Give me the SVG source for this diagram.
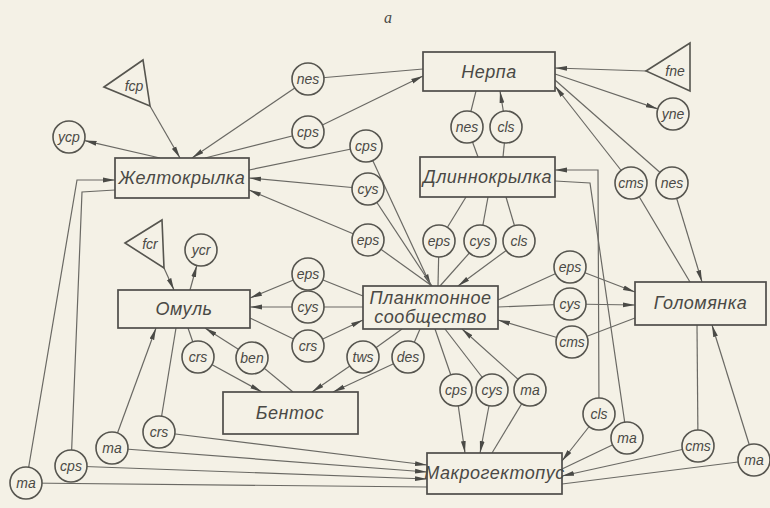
<svg xmlns="http://www.w3.org/2000/svg" width="770" height="508" viewBox="0 0 770 508">
<defs>
<marker id="ah" viewBox="0 0 12 6" refX="12" refY="3" markerWidth="12" markerHeight="6" markerUnits="userSpaceOnUse" orient="auto"><path d="M0,0.6 L12,3 L0,5.4 z" fill="#4a4a46"/></marker>
<style>
.bg{fill:#f4f1e6}
.c line,.c polyline{stroke:#6a6964;stroke-width:1.2;fill:none}
.a{marker-end:url(#ah)}
.box{fill:#f4f1e6;stroke:#4e4d49;stroke-width:1.7}
.cir{fill:#f4f1e6;stroke:#56554f;stroke-width:1.6}
.tri{fill:#f4f1e6;stroke:#56554f;stroke-width:1.6}
.bt{font-family:"Liberation Sans",Arial,sans-serif;font-style:italic;font-size:18px;fill:#4a4945;text-anchor:middle;letter-spacing:0.5px}
.ct{font-family:"Liberation Sans",Arial,sans-serif;font-style:italic;font-size:14px;fill:#4a4945;text-anchor:middle}
</style>
</defs>
<rect class="bg" x="0" y="0" width="770" height="508"/>
<text x="388" y="23" font-family="Liberation Serif,serif" font-style="italic" font-size="16" fill="#4a4945" text-anchor="middle">a</text>
<g class="c" id="connectors">
<line class="a" x1="308" y1="79" x2="192" y2="158"/>
<line x1="308" y1="79" x2="423" y2="69"/>
<line x1="205" y1="158" x2="308" y2="132"/>
<line class="a" x1="308" y1="132" x2="423" y2="76"/>
<line class="a" x1="150" y1="106" x2="180" y2="158"/>
<line class="a" x1="160" y1="158" x2="84.6" y2="140.6"/>
<line x1="366" y1="146" x2="249" y2="170"/>
<line class="a" x1="366" y1="146" x2="431" y2="286"/>
<line class="a" x1="368" y1="189" x2="249" y2="178"/>
<line x1="368" y1="189" x2="432" y2="286"/>
<line class="a" x1="368" y1="240" x2="249" y2="190"/>
<line x1="368" y1="240" x2="432" y2="286"/>
<line class="a" x1="164" y1="268" x2="174" y2="290"/>
<line class="a" x1="190" y1="290" x2="196.8" y2="265.4"/>
<line x1="363" y1="296" x2="308" y2="274"/>
<line class="a" x1="308" y1="274" x2="250" y2="298"/>
<line x1="363" y1="307" x2="308" y2="307"/>
<line class="a" x1="308" y1="307" x2="250" y2="307"/>
<line x1="250" y1="318" x2="308" y2="346"/>
<line class="a" x1="308" y1="346" x2="363" y2="320"/>
<line x1="188" y1="328" x2="198" y2="357"/>
<line class="a" x1="198" y1="357" x2="262" y2="392"/>
<line x1="293" y1="392" x2="252" y2="358"/>
<line class="a" x1="252" y1="358" x2="205" y2="328"/>
<line x1="402" y1="329" x2="363" y2="357"/>
<line class="a" x1="363" y1="357" x2="312" y2="392"/>
<line x1="420" y1="329" x2="408" y2="357"/>
<line class="a" x1="408" y1="357" x2="333" y2="392"/>
<line x1="435" y1="329" x2="456" y2="390"/>
<line class="a" x1="456" y1="390" x2="465" y2="453"/>
<line x1="445" y1="329" x2="492" y2="390"/>
<line class="a" x1="492" y1="390" x2="480" y2="453"/>
<line class="a" x1="530" y1="390" x2="462" y2="329"/>
<line x1="530" y1="390" x2="492" y2="453"/>
<line x1="498" y1="300" x2="570" y2="267"/>
<line class="a" x1="570" y1="267" x2="635" y2="292"/>
<line x1="498" y1="307" x2="570" y2="304"/>
<line class="a" x1="570" y1="304" x2="635" y2="305"/>
<line x1="635" y1="318" x2="572" y2="342"/>
<line class="a" x1="572" y1="342" x2="498" y2="320"/>
<line x1="466" y1="197" x2="439" y2="241"/>
<line x1="439" y1="241" x2="438" y2="286"/>
<line x1="488" y1="197" x2="480" y2="241"/>
<line x1="480" y1="241" x2="440" y2="286"/>
<line x1="506" y1="197" x2="519" y2="241"/>
<line class="a" x1="519" y1="241" x2="458" y2="286"/>
<line x1="476" y1="91" x2="467" y2="127"/>
<line x1="467" y1="127" x2="478" y2="157"/>
<line x1="503" y1="157" x2="506" y2="127"/>
<line class="a" x1="506" y1="127" x2="500" y2="91"/>
<line class="a" x1="646" y1="71" x2="555" y2="68"/>
<line class="a" x1="555" y1="74" x2="657.8" y2="108.9"/>
<line class="a" x1="631" y1="183" x2="555" y2="86"/>
<line x1="631" y1="183" x2="690" y2="282"/>
<line x1="555" y1="80" x2="672" y2="183"/>
<line class="a" x1="672" y1="183" x2="702" y2="282"/>
<polyline class="a" points="599,414 598,170 555,170"/>
<line class="a" x1="599" y1="414" x2="562" y2="461"/>
<polyline points="555,181 590,183 627,438"/>
<line x1="627" y1="438" x2="562" y2="469"/>
<line x1="697" y1="325" x2="698" y2="446"/>
<line class="a" x1="698" y1="446" x2="562" y2="476"/>
<line class="a" x1="754" y1="460" x2="712" y2="325"/>
<line x1="754" y1="460" x2="562" y2="484"/>
<line class="a" x1="112" y1="448" x2="156" y2="328"/>
<line class="a" x1="112" y1="448" x2="427" y2="472"/>
<line x1="176" y1="328" x2="159" y2="432"/>
<line class="a" x1="159" y1="432" x2="427" y2="465"/>
<polyline points="115,190 82,192 71,466"/>
<line class="a" x1="71" y1="466" x2="427" y2="479"/>
<polyline class="a" points="26,483 77,180 115,180"/>
<line x1="26" y1="483" x2="427" y2="487"/>
</g>
<g id="n-nerpa"><rect class="box" x="423" y="52" width="132" height="39"/><text class="bt" x="489" y="78">Нерпа</text></g>
<g id="n-zheltokrylka"><rect class="box" x="115" y="158" width="134" height="40"/><text class="bt" x="182" y="184">Желтокрылка</text></g>
<g id="n-dlinnokrylka"><rect class="box" x="420" y="157" width="135" height="40"/><text class="bt" x="487.5" y="183">Длиннокрылка</text></g>
<g id="n-omul"><rect class="box" x="118" y="290" width="132" height="38"/><text class="bt" x="184" y="315">Омуль</text></g>
<g id="n-plankton"><rect class="box" x="363" y="286" width="135" height="43"/><text class="bt" x="430.5" y="304">Планктонное</text><text class="bt" x="430.5" y="323">сообщество</text></g>
<g id="n-golomyanka"><rect class="box" x="635" y="282" width="131" height="43"/><text class="bt" x="700.5" y="309">Голомянка</text></g>
<g id="n-bentos"><rect class="box" x="223" y="392" width="135" height="42"/><text class="bt" x="290" y="419">Бентос</text></g>
<g id="n-makro"><rect class="box" x="427" y="453" width="135" height="41"/><text class="bt" x="494.5" y="479">Макрогектопус</text></g>
<g id="t-fcp"><polygon class="tri" points="104,87 143,60 150,106"/><text class="ct" x="134" y="91">fcp</text></g>
<g id="t-fcr"><polygon class="tri" points="125,243 162,220 164,268"/><text class="ct" x="150" y="249">fcr</text></g>
<g id="t-fne"><polygon class="tri" points="646,71 690,43 690,91"/><text class="ct" x="675" y="76">fne</text></g>
<g id="c-nes1"><circle class="cir" cx="308" cy="79" r="16"/><text class="ct" x="308" y="84">nes</text></g>
<g id="c-cps1"><circle class="cir" cx="308" cy="132" r="16"/><text class="ct" x="308" y="137">cps</text></g>
<g id="c-cps2"><circle class="cir" cx="366" cy="146" r="16"/><text class="ct" x="366" y="151">cps</text></g>
<g id="c-ycp"><circle class="cir" cx="69" cy="137" r="16"/><text class="ct" x="69" y="142">ycp</text></g>
<g id="c-cys1"><circle class="cir" cx="368" cy="189" r="16"/><text class="ct" x="368" y="194">cys</text></g>
<g id="c-eps1"><circle class="cir" cx="368" cy="240" r="16"/><text class="ct" x="368" y="245">eps</text></g>
<g id="c-ycr"><circle class="cir" cx="201" cy="250" r="16"/><text class="ct" x="201" y="255">ycr</text></g>
<g id="c-eps2"><circle class="cir" cx="308" cy="274" r="16"/><text class="ct" x="308" y="279">eps</text></g>
<g id="c-cys2"><circle class="cir" cx="308" cy="307" r="16"/><text class="ct" x="308" y="312">cys</text></g>
<g id="c-crs1"><circle class="cir" cx="308" cy="346" r="16"/><text class="ct" x="308" y="351">crs</text></g>
<g id="c-crs2"><circle class="cir" cx="198" cy="357" r="16"/><text class="ct" x="198" y="362">crs</text></g>
<g id="c-ben"><circle class="cir" cx="252" cy="358" r="16"/><text class="ct" x="252" y="363">ben</text></g>
<g id="c-tws"><circle class="cir" cx="363" cy="357" r="16"/><text class="ct" x="363" y="362">tws</text></g>
<g id="c-des"><circle class="cir" cx="408" cy="357" r="16"/><text class="ct" x="408" y="362">des</text></g>
<g id="c-cps3"><circle class="cir" cx="456" cy="390" r="16"/><text class="ct" x="456" y="395">cps</text></g>
<g id="c-cys3"><circle class="cir" cx="492" cy="390" r="16"/><text class="ct" x="492" y="395">cys</text></g>
<g id="c-ma1"><circle class="cir" cx="530" cy="390" r="16"/><text class="ct" x="530" y="395">ma</text></g>
<g id="c-cls1"><circle class="cir" cx="599" cy="414" r="16"/><text class="ct" x="599" y="419">cls</text></g>
<g id="c-ma2"><circle class="cir" cx="627" cy="438" r="16"/><text class="ct" x="627" y="443">ma</text></g>
<g id="c-cms1"><circle class="cir" cx="698" cy="446" r="16"/><text class="ct" x="698" y="451">cms</text></g>
<g id="c-ma3"><circle class="cir" cx="754" cy="460" r="16"/><text class="ct" x="754" y="465">ma</text></g>
<g id="c-ma4"><circle class="cir" cx="112" cy="448" r="16"/><text class="ct" x="112" y="453">ma</text></g>
<g id="c-crs3"><circle class="cir" cx="159" cy="432" r="16"/><text class="ct" x="159" y="437">crs</text></g>
<g id="c-cps4"><circle class="cir" cx="71" cy="466" r="16"/><text class="ct" x="71" y="471">cps</text></g>
<g id="c-ma5"><circle class="cir" cx="26" cy="483" r="16"/><text class="ct" x="26" y="488">ma</text></g>
<g id="c-eps3"><circle class="cir" cx="570" cy="267" r="16"/><text class="ct" x="570" y="272">eps</text></g>
<g id="c-cys4"><circle class="cir" cx="570" cy="304" r="16"/><text class="ct" x="570" y="309">cys</text></g>
<g id="c-cms2"><circle class="cir" cx="572" cy="342" r="16"/><text class="ct" x="572" y="347">cms</text></g>
<g id="c-eps4"><circle class="cir" cx="439" cy="241" r="16"/><text class="ct" x="439" y="246">eps</text></g>
<g id="c-cys5"><circle class="cir" cx="480" cy="241" r="16"/><text class="ct" x="480" y="246">cys</text></g>
<g id="c-cls2"><circle class="cir" cx="519" cy="241" r="16"/><text class="ct" x="519" y="246">cls</text></g>
<g id="c-nes2"><circle class="cir" cx="467" cy="127" r="16"/><text class="ct" x="467" y="132">nes</text></g>
<g id="c-cls3"><circle class="cir" cx="506" cy="127" r="16"/><text class="ct" x="506" y="132">cls</text></g>
<g id="c-cms3"><circle class="cir" cx="631" cy="183" r="16"/><text class="ct" x="631" y="188">cms</text></g>
<g id="c-nes3"><circle class="cir" cx="672" cy="183" r="16"/><text class="ct" x="672" y="188">nes</text></g>
<g id="c-yne"><circle class="cir" cx="673" cy="114" r="16"/><text class="ct" x="673" y="119">yne</text></g>
</svg>
